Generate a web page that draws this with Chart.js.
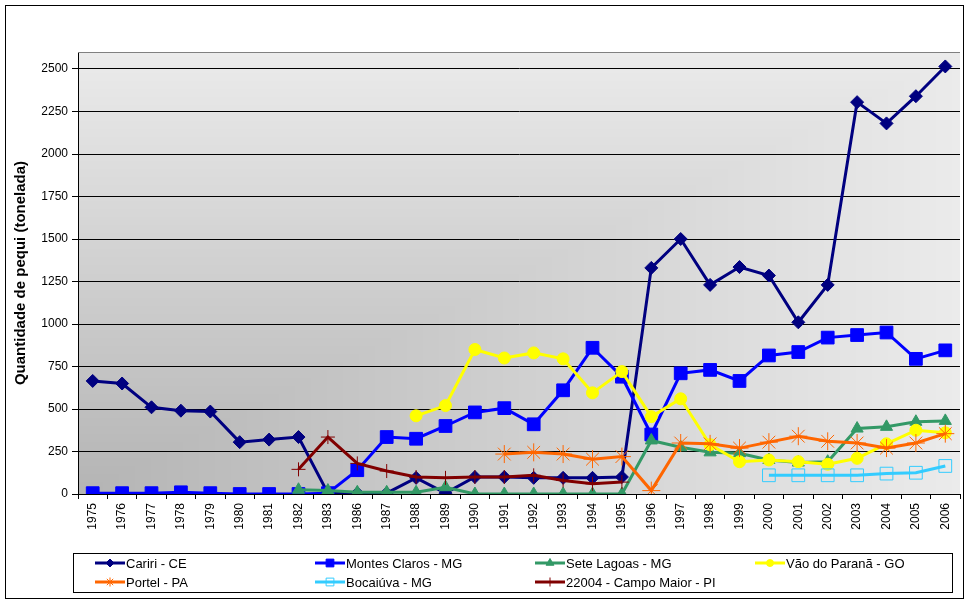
<!DOCTYPE html>
<html lang="pt">
<head>
  <meta charset="UTF-8" />
  <title>Quantidade de pequi</title>
  <script src="https://cdn.jsdelivr.net/npm/chart.js"></script>
  <style>
    body { margin: 0; background: #fff; }
    canvas { display: block; }
  </style>
</head>
<body>
  <canvas id="pequiChart" width="970" height="604"></canvas>

  <script>
    const years = ['1975','1976','1977','1978','1979','1980','1981','1982','1983','1986',
                   '1987','1988','1989','1990','1991','1992','1993','1994','1995','1996',
                   '1997','1998','1999','2000','2001','2002','2003','2004','2005','2006'];

    const cariri = [665, 650, 510, 490, 485, 305, 320, 335, 5, 5,
                    5, 95, 5, 100, 100, 95, 95, 95, 100, 1330,
                    1500, 1230, 1335, 1285, 1010, 1230, 2305, 2180, 2340, 2515];
    const montesClaros = [5, 5, 5, 10, 5, 0, 0, 0, 5, 140,
                          335, 325, 400, 480, 505, 410, 610, 860, 690, 350,
                          710, 730, 665, 815, 835, 920, 935, 950, 795, 845];
    const seteLagoas = [null, null, null, null, null, null, null, 25, 20, 10,
                        10, 10, 40, 0, 0, 0, 0, 0, 0, 315,
                        275, 245, 240, 200, 185, 190, 385, 395, 425, 430];
    const vaoParana = [null, null, null, null, null, null, null, null, null, null,
                       null, 460, 520, 850, 800, 830, 795, 595, 720, 455,
                       560, 290, 190, 200, 190, 175, 210, 295, 375, 360];
    const portel = [null, null, null, null, null, null, null, null, null, null,
                    null, null, null, null, 235, 245, 235, 205, 220, 20,
                    300, 295, 270, 305, 340, 310, 300, 270, 300, 355];
    const bocaiuva = [null, null, null, null, null, null, null, null, null, null,
                      null, null, null, null, null, null, null, null, null, null,
                      null, null, null, 110, 110, 110, 110, 120, 125, 165];
    const campoMaior = [null, null, null, null, null, null, null, 145, 335, 180,
                        135, 100, 95, 100, 100, 110, 80, 60, 70, null,
                        null, null, null, null, null, null, null, null, null, null];

    const yTicks = [0, 250, 500, 750, 1000, 1250, 1500, 1750, 2000, 2250, 2500];
    const FONT = 'Arial, "Liberation Sans", sans-serif';

    const series = [
      { label: 'Cariri - CE', data: cariri, color: '#000080', style: 'rectRot', r: 6.5, fill: true, lr: 4 },
      { label: 'Montes Claros - MG', data: montesClaros, color: '#0000FF', style: 'rect', r: 9, fill: true, lr: 5.5 },
      { label: 'Sete Lagoas - MG', data: seteLagoas, color: '#339966', style: 'triangle', r: 7, fill: true, lr: 4.5 },
      { label: 'Vão do Paranã - GO', data: vaoParana, color: '#FFFF00', style: 'circle', r: 6, fill: true, lr: 3.5 },
      { label: 'Portel - PA', data: portel, color: '#FF6600', style: 'star', r: 9, fill: false, lr: 4.5 },
      { label: 'Bocaiúva - MG', data: bocaiuva, color: '#33CCFF', style: 'rect', r: 9, fill: false, lr: 5.5 },
      { label: '22004 - Campo Maior - PI', data: campoMaior, color: '#800000', style: 'cross', r: 7, fill: false, lr: 4.5 }
    ];

    // gray "from corner" fill of the plot area, outer frame
    const backdrop = {
      id: 'backdrop',
      beforeDraw(chart) {
        const { ctx, chartArea: a } = chart;
        ctx.save();
        ctx.fillStyle = '#fff';
        ctx.fillRect(0, 0, chart.width, chart.height);
        const w = Math.round(a.right - a.left), h = Math.round(a.bottom - a.top);
        const img = ctx.createImageData(w, h);
        const dark = 180, light = 235;
        for (let y = 0; y < h; y++) {
          for (let x = 0; x < w; x++) {
            const t = Math.max(x / w, (h - y) / h);
            const c = dark + (light - dark) * t;
            const i = (y * w + x) * 4;
            img.data[i] = img.data[i + 1] = img.data[i + 2] = c;
            img.data[i + 3] = 255;
          }
        }
        ctx.putImageData(img, Math.round(a.left), Math.round(a.top));
        ctx.strokeStyle = '#000';
        ctx.lineWidth = 1;
        ctx.strokeRect(5.5, 5.5, 958, 593);
        ctx.restore();
      },
      beforeDatasetsDraw(chart) {
        const { ctx, chartArea: a } = chart;
        ctx.save();
        ctx.strokeStyle = '#808080';
        ctx.lineWidth = 1;
        ctx.beginPath();
        ctx.moveTo(a.left, Math.round(a.top) + 0.5);
        ctx.lineTo(a.right, Math.round(a.top) + 0.5);
        ctx.stroke();
        ctx.restore();
      }
    };

    // boxed legend, 4 columns x 2 rows
    const boxLegend = {
      id: 'boxLegend',
      afterDraw(chart) {
        const ctx = chart.ctx;
        ctx.save();
        ctx.strokeStyle = '#000';
        ctx.lineWidth = 1;
        ctx.strokeRect(73.5, 553.5, 879, 39);
        const colX = [95, 315, 535, 755];
        const rowY = [563, 582];
        ctx.font = '13px ' + FONT;
        ctx.textBaseline = 'middle';
        series.forEach((s, i) => {
          const x = colX[i % 4], y = rowY[Math.floor(i / 4)];
          ctx.strokeStyle = s.color;
          ctx.lineWidth = 3;
          ctx.beginPath();
          ctx.moveTo(x, y);
          ctx.lineTo(x + 30, y);
          ctx.stroke();
          ctx.fillStyle = s.fill ? s.color : 'rgba(0,0,0,0)';
          ctx.strokeStyle = s.color;
          ctx.lineWidth = 1;
          Chart.helpers.drawPoint(ctx, { pointStyle: s.style, radius: s.lr, rotation: 0, borderWidth: 1 }, x + 15, y);
          ctx.fillStyle = '#000';
          ctx.fillText(s.label, x + 31, y + 1);
        });
        ctx.restore();
      }
    };

    new Chart(document.getElementById('pequiChart'), {
      type: 'line',
      data: {
        labels: years,
        datasets: series.map((s, i) => ({
          label: s.label,
          data: s.data,
          borderColor: s.color,
          backgroundColor: s.fill ? s.color : 'rgba(0,0,0,0)',
          pointBackgroundColor: s.fill ? s.color : 'rgba(0,0,0,0)',
          pointBorderColor: s.color,
          pointBorderWidth: 1,
          borderWidth: 3,
          pointStyle: s.style,
          pointRadius: s.r,
          tension: 0,
          order: series.length - i
        }))
      },
      options: {
        responsive: false,
        animation: false,
        layout: { padding: { left: 0, right: 7, top: 52, bottom: 0 } },
        plugins: {
          legend: { display: false },
          tooltip: { enabled: false }
        },
        scales: {
          x: {
            offset: true,
            afterFit(scale) { scale.height = 110; },
            grid: { offset: true, drawOnChartArea: false, drawTicks: true, tickLength: 5, color: '#000' },
            border: { display: true, color: '#000', width: 1 },
            ticks: {
              autoSkip: false,
              minRotation: 90,
              maxRotation: 90,
              padding: 4,
              color: '#000',
              font: { family: FONT, size: 12 }
            }
          },
          y: {
            min: 0,
            max: 2600,
            afterFit(scale) { scale.width = 78; },
            afterBuildTicks(scale) { scale.ticks = yTicks.map(v => ({ value: v })); },
            grid: { color: '#000', lineWidth: 1, tickLength: 6 },
            border: { display: true, color: '#000', width: 1 },
            ticks: {
              padding: 4,
              color: '#000',
              font: { family: FONT, size: 12 },
              callback: value => String(value)
            },
            title: {
              display: true,
              text: 'Quantidade de pequi (tonelada)',
              color: '#000',
              font: { family: FONT, size: 15, weight: 'bold' },
              padding: { top: 12, bottom: 0 }
            }
          }
        }
      },
      plugins: [backdrop, boxLegend]
    });
  </script>
</body>
</html>
